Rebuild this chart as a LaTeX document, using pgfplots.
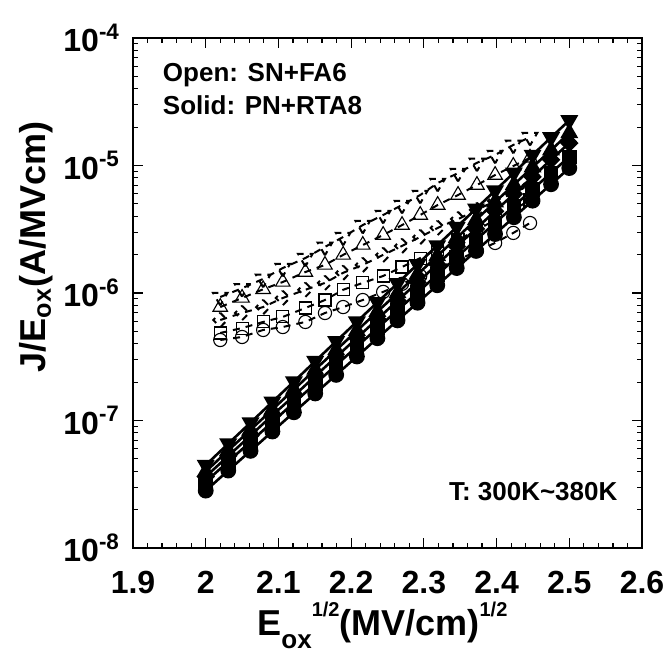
\documentclass[border=0pt]{standalone}
\usepackage{fontspec}
\setmainfont{Liberation Sans}
\usepackage{pgfplots}
\usepackage{pgfplotstable}
\pgfplotsset{compat=1.18}

\pgfplotstableread{
x     dn      up      dia     sq      ci
2.020 9.3e-7  7.76e-7 6.14e-7 4.86e-7 4.28e-7
2.050 1.09e-6 9.14e-7 6.97e-7 5.31e-7 4.52e-7
2.079 1.29e-6 1.07e-6 7.76e-7 5.93e-7 5.13e-7
2.106 1.57e-6 1.22e-6 9.14e-7 6.49e-7 5.41e-7
2.137 1.88e-6 1.46e-6 1.06e-6 7.63e-7 5.93e-7
2.164 2.30e-6 1.66e-6 1.20e-6 8.81e-7 6.97e-7
2.189 2.75e-6 1.99e-6 1.44e-6 1.06e-6 7.76e-7
2.216 3.41e-6 2.38e-6 1.66e-6 1.20e-6 8.81e-7
2.244 4.09e-6 2.85e-6 1.99e-6 1.36e-6 1.02e-6
2.270 4.90e-6 3.41e-6 2.34e-6 1.60e-6 1.18e-6
2.295 5.87e-6 4.09e-6 2.75e-6 1.88e-6 1.36e-6
2.319 7.29e-6 4.90e-6 3.24e-6 2.21e-6 1.57e-6
2.347 8.73e-6 5.87e-6 3.80e-6 2.61e-6 1.82e-6
2.373 1.05e-5 7.03e-6 4.48e-6 3.12e-6 2.13e-6
2.398 1.21e-5 8.42e-6 5.27e-6 3.74e-6 2.47e-6
2.423 1.45e-5 9.91e-6 6.08e-6 4.48e-6 2.96e-6
2.446 1.67e-5 1.15e-5 7.03e-6 5.36e-6 3.54e-6
}\opendata

\pgfplotstableread{
x      dn      up      dia     sq      ci
2.0000 4.47e-8 3.98e-8 3.63e-8 3.31e-8 2.82e-8
2.0310 6.58e-8 5.82e-8 5.27e-8 4.76e-8 4.05e-8
2.0616 9.62e-8 8.45e-8 7.62e-8 6.82e-8 5.78e-8
2.0917 1.40e-7 1.22e-7 1.10e-7 9.72e-8 8.20e-8
2.1213 2.02e-7 1.75e-7 1.56e-7 1.38e-7 1.16e-7
2.1506 2.92e-7 2.51e-7 2.23e-7 1.94e-7 1.63e-7
2.1794 4.18e-7 3.57e-7 3.15e-7 2.72e-7 2.28e-7
2.2079 5.96e-7 5.06e-7 4.44e-7 3.80e-7 3.18e-7
2.2361 8.45e-7 7.14e-7 6.24e-7 5.30e-7 4.42e-7
2.2638 1.19e-6 1.00e-6 8.71e-7 7.33e-7 6.10e-7
2.2913 1.68e-6 1.40e-6 1.21e-6 1.01e-6 8.39e-7
2.3184 2.36e-6 1.95e-6 1.68e-6 1.39e-6 1.15e-6
2.3452 3.29e-6 2.71e-6 2.32e-6 1.91e-6 1.57e-6
2.3717 4.58e-6 3.75e-6 3.19e-6 2.61e-6 2.14e-6
2.3979 6.35e-6 5.16e-6 4.38e-6 3.54e-6 2.90e-6
2.4238 8.77e-6 7.08e-6 5.97e-6 4.80e-6 3.93e-6
2.4495 1.21e-5 9.70e-6 8.15e-6 6.49e-6 5.30e-6
2.4749 1.66e-5 1.32e-5 1.11e-5 8.75e-6 7.13e-6
2.5000 2.26e-5 1.80e-5 1.50e-5 1.17e-5 9.55e-6
}\soliddata

\begin{document}
\begin{tikzpicture}
\path[use as bounding box] (-66.5pt,-51.5pt) rectangle (268pt,274pt);
\begin{axis}[
  scale only axis, width=254.5pt, height=255pt,
  at={(0pt,0pt)}, anchor=south west,
  ymode=log, xmin=1.9, xmax=2.6, ymin=1e-8, ymax=1e-4,
  xtick={1.9,2,2.1,2.2,2.3,2.4,2.5,2.6},
  xticklabels={1.9,2,2.1,2.2,2.3,2.4,2.5,2.6},
  minor x tick num=4,
  ytick={1e-8,1e-7,1e-6,1e-5,1e-4},
  yticklabels={10\textsuperscript{-8},10\textsuperscript{-7},10\textsuperscript{-6},10\textsuperscript{-5},10\textsuperscript{-4}},
  tick align=inside, major tick length=5pt, minor tick length=2.5pt,
  axis line style={line width=1pt},
  every tick/.style={black, line width=0.6pt},
  ticklabel style={font=\fontsize{16}{16}\selectfont\bfseries},
  xticklabel style={anchor=north, yshift=-8pt},
  yticklabel style={xshift=-3pt},
  xlabel={E\raisebox{-6.5pt}{\fontsize{13}{13}\selectfont ox}\raisebox{9.5pt}{\fontsize{10}{10}\selectfont 1/2}(MV/cm)\raisebox{9.5pt}{\fontsize{10}{10}\selectfont 1/2}},
  ylabel={J/E\textsubscript{ox}(A/MVcm)},
  label style={font=\fontsize{18}{18}\selectfont\bfseries},
  xlabel style={at={(axis description cs:0.49,-0.171)}, anchor=base},
  ylabel style={at={(axis description cs:-0.19,0.59)}, anchor=center},
  clip=false,
  opn/.style={black, line width=1pt, dash pattern=on 3.5pt off 3pt,
     mark options={solid, line width=0.55pt, fill=none}},
  sld/.style={black, line width=1.3pt, solid, mark options={solid, fill=black}},
]
% open series
\addplot[opn, mark=triangle, mark size=4.2pt, mark options={rotate=180}] table[x=x,y=dn] {\opendata};
\addplot[opn, mark=triangle, mark size=4.2pt] table[x=x,y=up] {\opendata};
\addplot[opn, mark=diamond, mark size=3.6pt, mark options={xscale=1.3}] table[x=x,y=dia] {\opendata};
\addplot[opn, mark=square, mark size=3pt] table[x=x,y=sq] {\opendata};
\addplot[opn, mark=o, mark size=3.3pt] table[x=x,y=ci] {\opendata};
% solid series
\addplot[sld, mark=triangle*, mark size=3.9pt, mark options={rotate=180}] table[x=x,y=dn] {\soliddata};
\addplot[sld, mark=triangle*, mark size=3.9pt] table[x=x,y=up] {\soliddata};
\addplot[sld, mark=diamond*, mark size=3.8pt, mark options={xscale=1.3}] table[x=x,y=dia] {\soliddata};
\addplot[sld, mark=square*, mark size=3pt] table[x=x,y=sq] {\soliddata};
\addplot[sld, mark=*, mark size=3.3pt] table[x=x,y=ci] {\soliddata};

\node[anchor=west, font=\fontsize{13}{13}\selectfont\bfseries] at (rel axis cs:0.045,0.927) {Open: SN+FA6};
\node[anchor=west, font=\fontsize{13}{13}\selectfont\bfseries] at (rel axis cs:0.045,0.869) {Solid: PN+RTA8};
\node[anchor=west, font=\fontsize{13}{13}\selectfont\bfseries] at (rel axis cs:0.607,0.110) {T: 300K\textasciitilde 380K};
\end{axis}
\end{tikzpicture}
\end{document}
